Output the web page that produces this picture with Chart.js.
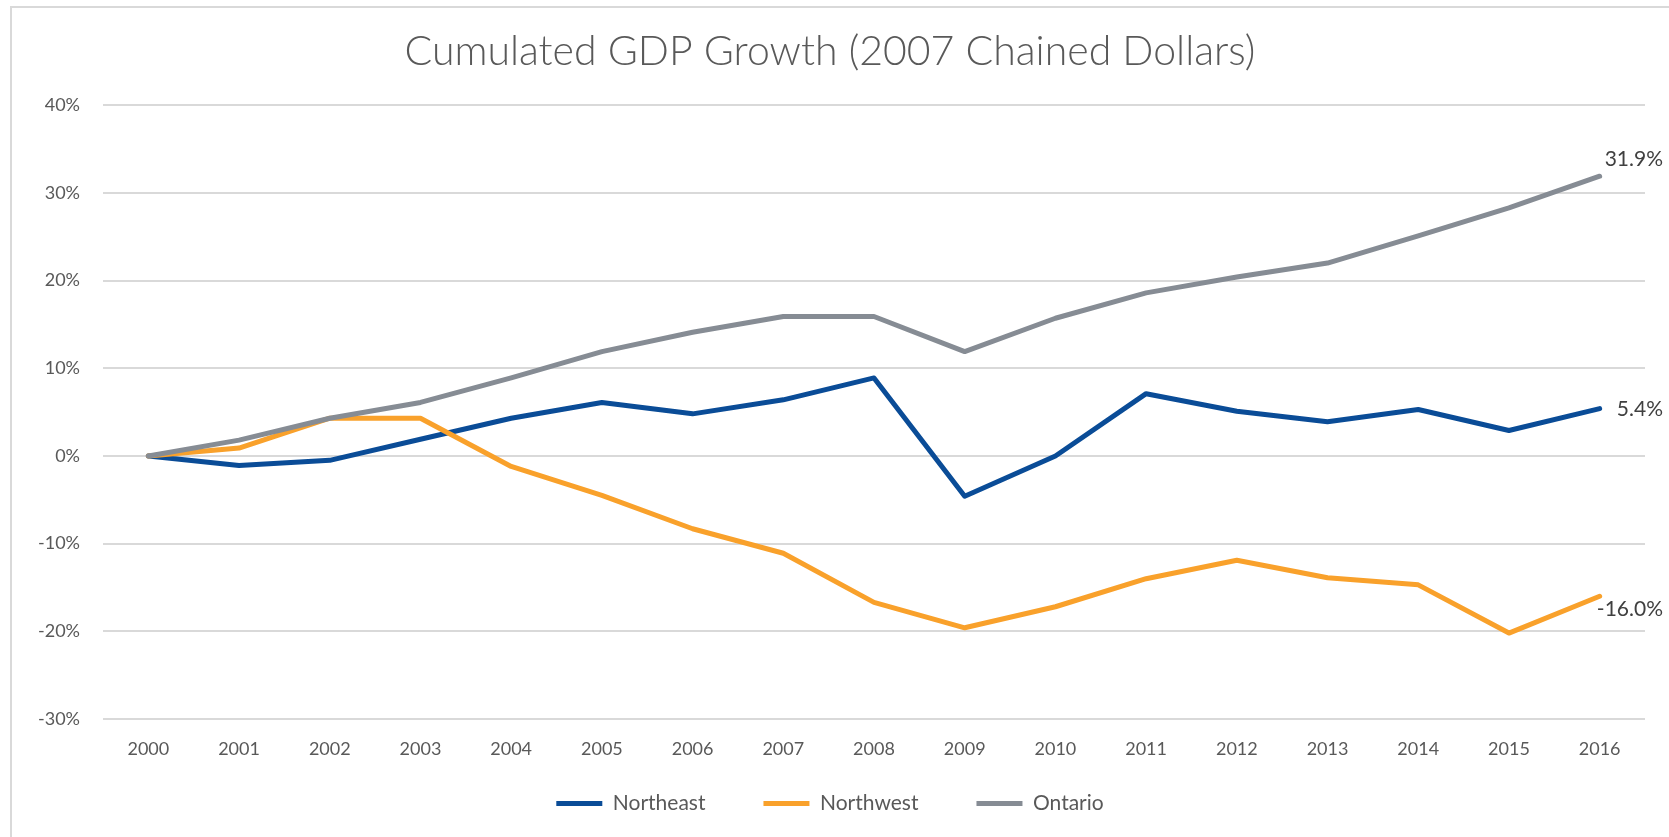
<!DOCTYPE html>
<html>
<head>
<meta charset="utf-8">
<script src="https://cdn.jsdelivr.net/npm/chart.js@4"></script>
<style>
    html, body { margin: 0; padding: 0; background: #fff; }
    #wrap { position: relative; width: 1669px; height: 837px; overflow: hidden; }
    #frame { position: absolute; left: 10px; top: 6px; right: -10px; bottom: -10px; border: 2px solid #d9d9d9; }
    #chart { position: absolute; left: 0; top: 0; }
</style>
</head>
<body>
<div id="wrap">
    <div id="frame"></div>
    <canvas id="chart" width="1669" height="837"></canvas>
</div>
<script>
const years = ['2000', '2001', '2002', '2003', '2004', '2005', '2006', '2007', '2008',
               '2009', '2010', '2011', '2012', '2013', '2014', '2015', '2016'];
const northeast = [0, -1.1, -0.5, 1.9, 4.3, 6.1, 4.8, 6.4, 8.9, -4.6, 0.0, 7.1, 5.1, 3.9, 5.3, 2.9, 5.4];
const northwest = [0, 0.9, 4.3, 4.3, -1.2, -4.5, -8.3, -11.1, -16.7, -19.6, -17.2, -14.0, -11.9, -13.9, -14.7, -20.2, -16.0];
const ontario = [0, 1.8, 4.3, 6.1, 8.9, 11.9, 14.1, 15.9, 15.9, 11.9, 15.7, 18.6, 20.4, 22.0, 25.1, 28.3, 31.9];
const yTicks = [40, 30, 20, 10, 0, -10, -20, -30];

const textColor = '#595959';
const gridColor = '#d9d9d9';
const fontFamily = "'Lato', 'Open Sans', sans-serif";

// last value label next to each line
const endLabels = {
    id: 'endLabels',
    afterDatasetsDraw(chart) {
        const ctx = chart.ctx;
        const offsets = { Northeast: 1, Northwest: 13, Ontario: -17 };
        ctx.save();
        ctx.font = `21px ${fontFamily}`;
        ctx.fillStyle = '#404040';
        ctx.textAlign = 'right';
        ctx.textBaseline = 'middle';
        chart.data.datasets.forEach((ds, i) => {
            const meta = chart.getDatasetMeta(i);
            const pt = meta.data[meta.data.length - 1];
            const v = ds.data[ds.data.length - 1];
            ctx.fillText(v.toFixed(1) + '%', chart.chartArea.right + 18, pt.y + offsets[ds.label]);
        });
        ctx.restore();
    }
};

// pull the legend up a bit (its label padding is wide for horizontal spacing)
const legendShift = {
    id: 'legendShift',
    afterLayout(chart) {
        chart.legend.top -= 26;
        chart.legend.bottom -= 26;
    }
};

function line(label, data, color, order) {
    return {
        label: label,
        data: data,
        borderColor: color,
        backgroundColor: color,
        borderWidth: 5,
        borderCapStyle: 'round',
        borderJoinStyle: 'round',
        pointRadius: 0,
        tension: 0,
        order: order
    };
}

new Chart(document.getElementById('chart'), {
    type: 'line',
    data: {
        labels: years,
        datasets: [
            line('Northeast', northeast, '#0a4c97', 3),
            line('Northwest', northwest, '#f9a12b', 2),
            line('Ontario', ontario, '#868c94', 1)
        ]
    },
    options: {
        responsive: false,
        animation: false,
        layout: {
            padding: { top: 0, left: 15, right: 24, bottom: -13 }
        },
        scales: {
            x: {
                offset: true,
                afterFit: s => { s.height = 42; },
                grid: { display: false, drawTicks: false },
                border: { display: false },
                ticks: {
                    color: textColor,
                    font: { family: fontFamily, size: 18 },
                    padding: 19,
                    maxRotation: 0
                }
            },
            y: {
                min: -30,
                max: 40,
                afterFit: s => { s.width = 88; },
                afterBuildTicks: s => { s.ticks = yTicks.map(v => ({ value: v })); },
                grid: { color: gridColor, lineWidth: 2, drawTicks: false },
                border: { display: false },
                ticks: {
                    color: textColor,
                    font: { family: fontFamily, size: 18 },
                    padding: 23,
                    callback: v => v + '%'
                }
            }
        },
        plugins: {
            title: {
                display: true,
                text: 'Cumulated GDP Growth (2007 Chained Dollars)',
                color: textColor,
                font: { family: fontFamily, size: 41, weight: '300' },
                padding: { top: 27, bottom: 29 }
            },
            legend: {
                position: 'bottom',
                labels: {
                    usePointStyle: true,
                    pointStyle: 'line',
                    pointStyleWidth: 46,
                    color: textColor,
                    font: { family: fontFamily, size: 21 },
                    padding: 58,
                    sort: (a, b) => a.datasetIndex - b.datasetIndex
                }
            },
            tooltip: { enabled: false }
        }
    },
    plugins: [endLabels, legendShift]
});
</script>
</body>
</html>
